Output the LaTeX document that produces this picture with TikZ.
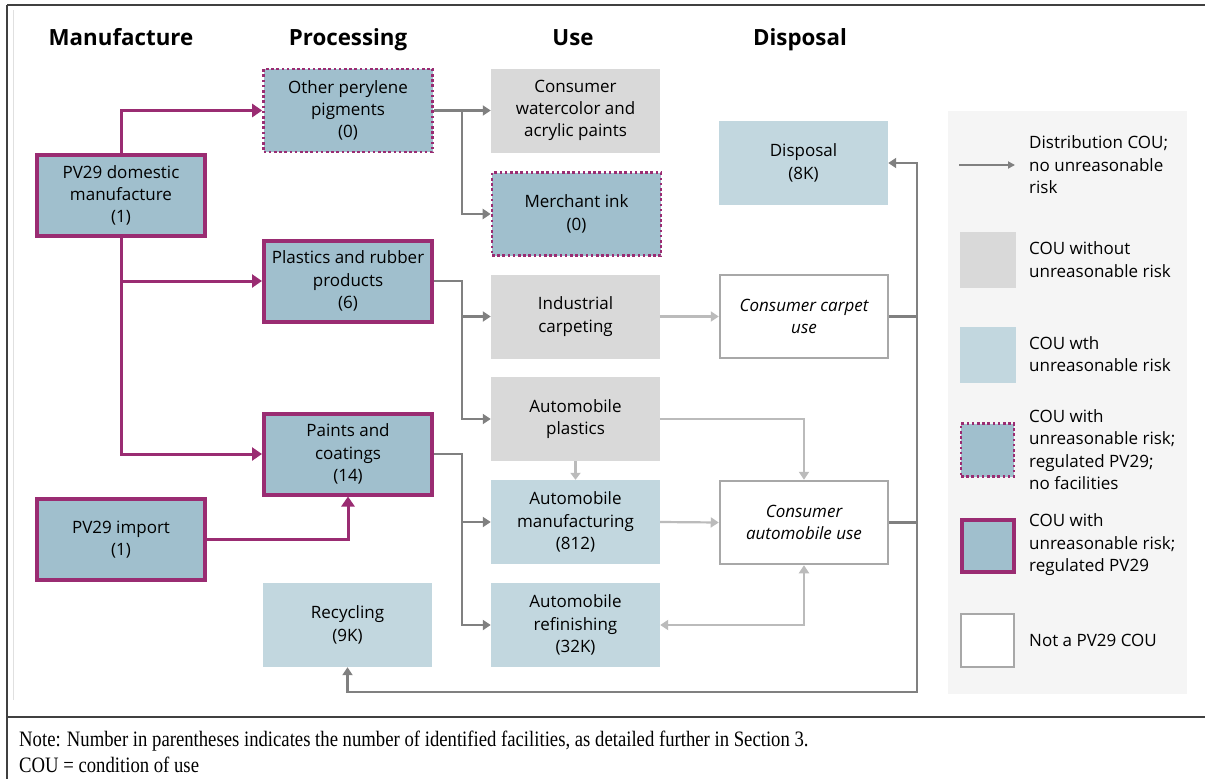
\documentclass[tikz,border=0pt]{standalone}
\usepackage{fontspec}
\setmainfont{Open Sans}
\newfontfamily\notefont{Liberation Serif}
\usetikzlibrary{arrows.meta,calc}
\definecolor{purp}{HTML}{9A2C72}
\definecolor{dblue}{HTML}{A0BFCD}
\definecolor{lblue}{HTML}{C2D7DF}
\definecolor{lgray}{HTML}{D9D9D9}
\definecolor{wborder}{HTML}{A8A8A8}
\definecolor{garrow}{HTML}{808080}
\definecolor{larrow}{HTML}{BBBBBB}
\definecolor{legbg}{HTML}{F5F5F5}
\tikzset{
  txt/.style={font=\fontsize{17}{22.3}\selectfont, align=center, inner sep=0pt},
  reg/.style={txt, fill=dblue, draw=purp, line width=4pt, minimum width=168pt, minimum height=81pt},
  nofac/.style={txt, fill=dblue, draw=purp, line width=2.6pt, dash pattern=on 2.6pt off 2.6pt, minimum width=169pt, minimum height=83pt},
  risk/.style={txt, fill=lblue, minimum width=169pt, minimum height=84pt},
  norisk/.style={txt, fill=lgray, minimum width=169pt, minimum height=84pt},
  notcou/.style={txt, fill=white, draw=wborder, line width=2.5pt, minimum width=168pt, minimum height=83pt, font=\fontsize{17}{22.3}\selectfont\itshape},
  hdr/.style={font=\fontsize{22.3}{24}\selectfont\bfseries, inner sep=0pt, anchor=base},
  parr/.style={draw=purp, line width=3pt, -{Triangle[length=10pt,width=13pt]}},
  pline/.style={draw=purp, line width=3pt},
  garr/.style={draw=garrow, line width=2.2pt, -{Triangle[length=8pt,width=10pt]}},
  gline/.style={draw=garrow, line width=2.2pt},
  larr/.style={draw=larrow, line width=2.2pt, -{Triangle[length=8pt,width=10pt]}},
  legtxt/.style={font=\fontsize{17}{22.5}\selectfont, align=left, anchor=west, inner sep=0pt},
  legsq/.style={minimum width=53pt, minimum height=53pt, inner sep=0pt},
  notetxt/.style={anchor=base west, inner sep=0pt, font=\notefont\fontsize{22}{26}\selectfont},
}
\begin{document}
\begin{tikzpicture}[x=1pt,y=-1pt]
\useasboundingbox (0,0) rectangle (1205,779);
% frame
\draw[draw=black!75, line width=2pt] (7,5) -- (1205,5);
\draw[draw=black!75, line width=2pt] (7,5) -- (7,779);
\draw[draw=black!75, line width=2pt] (7,717) -- (1205,717);
\draw[draw=black!12, line width=1pt] (13,10) -- (13,700);
% headers
\node[hdr] (h1) at (121,45) {Manufacture};
\node[hdr] (h2) at (348,45) {Processing};
\node[hdr] (h3) at (573,45) {Use};
\node[hdr] (h4) at (800,45) {Disposal};
% legend panel
\fill[legbg] (948,111) rectangle (1187,694);
% nodes
\node[reg] (dom) at (121,195.5) {PV29 domestic\\manufacture\\(1)};
\node[reg] (imp) at (121,539.5) {PV29 import\\(1)};
\node[nofac] (other) at (348,110.5) {Other perylene\\pigments\\(0)};
\node[reg] (plast) at (348,281) {Plastics and rubber\\products\\(6)};
\node[reg] (paints) at (348,454) {Paints and\\coatings\\(14)};
\node[risk] (recyc) at (347.5,625) {Recycling\\(9K)};
\node[norisk] (water) at (575.5,110.5) {Consumer\\watercolor and\\acrylic paints};
\node[nofac] (ink) at (576.5,214) {Merchant ink\\(0)};
\node[norisk] (carp) at (575.5,316.5) {Industrial\\carpeting};
\node[norisk] (aplast) at (575.5,419) {Automobile\\plastics};
\node[risk] (aman) at (575.5,522) {Automobile\\manufacturing\\(812)};
\node[risk] (aref) at (575.5,625) {Automobile\\refinishing\\(32K)};
\node[risk] (disp) at (803.5,163) {Disposal\\(8K)};
\node[notcou] (ccarp) at (804,316.5) {Consumer carpet\\use};
\node[notcou] (cauto) at (804,522.5) {Consumer\\automobile use};
% junction coordinates
\coordinate (j1) at (462,0);
\coordinate (j2) at (917,0);
\coordinate (bot) at (917,692);
% purple connectors
\draw[parr] (dom.north) |- (other.west);
\draw[parr] (dom.south) |- (paints.west);
\draw[parr] (dom.south |- plast.west) -- (plast.west);
\draw[parr] (imp.east) -| (paints.south);
% gray connectors
\draw[garr] (other.east) -- (water.west);
\draw[garr] (j1 |- other.east) |- (ink.west);
\draw[garr] (plast.east) -- (j1 |- plast.east) |- (aplast.west);
\draw[garr] (j1 |- carp.west) -- (carp.west);
\draw[garr] (paints.east) -- (j1 |- paints.east) |- (aref.west);
\draw[garr] (j1 |- aman.west) -- (aman.west);
% light gray connectors
\draw[larr] (carp.east) -- (ccarp.west);
\draw[larr] (aplast.east) -| (cauto.north);
\draw[larr, -{Triangle[length=7pt,width=10pt]}] (aplast.south) -- (aman.north);
\draw[larr] (aman.east) -- (cauto.west);
\draw[larr, {Triangle[length=8pt,width=10pt]}-{Triangle[length=8pt,width=10pt]}] (aref.east) -| (cauto.south);
% disposal connectors
\draw[gline] (ccarp.east) -- (j2 |- ccarp.east);
\draw[gline] (cauto.east) -- (j2 |- cauto.east);
\draw[garr, {Triangle[length=8pt,width=10pt]}-{Triangle[length=8pt,width=10pt]}] (disp.east) -| (bot) -| (recyc.south);
% legend
\coordinate (la) at (959,165);
\coordinate (lb) at (1015,165);
\draw[draw=garrow, line width=2.2pt, -{Triangle[length=7pt,width=7pt]}] (la) -- (lb);
\node[legtxt] (l1) at (1029,165) {Distribution COU;\\no unreasonable\\risk};
\node[legsq, fill=lgray, minimum width=56pt, minimum height=56pt] (s2) at (987.5,260) {};
\node[legtxt] (l2) at (1029,259.5) {COU without\\unreasonable risk};
\node[legsq, fill=lblue, minimum width=56pt, minimum height=56pt] (s3) at (987.5,355) {};
\node[legtxt] (l3) at (1029,354) {COU wth\\unreasonable risk};
\node[legsq, fill=dblue, draw=purp, line width=2.6pt, dash pattern=on 2.6pt off 2.6pt] (s4) at (987.5,450) {};
\node[legtxt] (l4) at (1029,449.5) {COU with\\unreasonable risk;\\regulated PV29;\\no facilities};
\node[legsq, fill=dblue, draw=purp, line width=4pt, minimum width=52pt, minimum height=52pt] (s5) at (987.5,545.5) {};
\node[legtxt] (l5) at (1029,545) {COU with\\unreasonable risk;\\regulated PV29};
\node[legsq, fill=white, draw=wborder, line width=2.5pt] (s6) at (987.5,640.5) {};
\node[legtxt] (l6) at (1029,640) {Not a PV29 COU};
% note
\node[notetxt] (n1) at (19,746) {\scalebox{0.85}[1]{Note: Number in parentheses indicates the number of identified facilities, as detailed further in Section 3.}};
\node[notetxt] (n2) at (19,772) {\scalebox{0.85}[1]{COU = condition of use}};
\end{tikzpicture}
\end{document}
